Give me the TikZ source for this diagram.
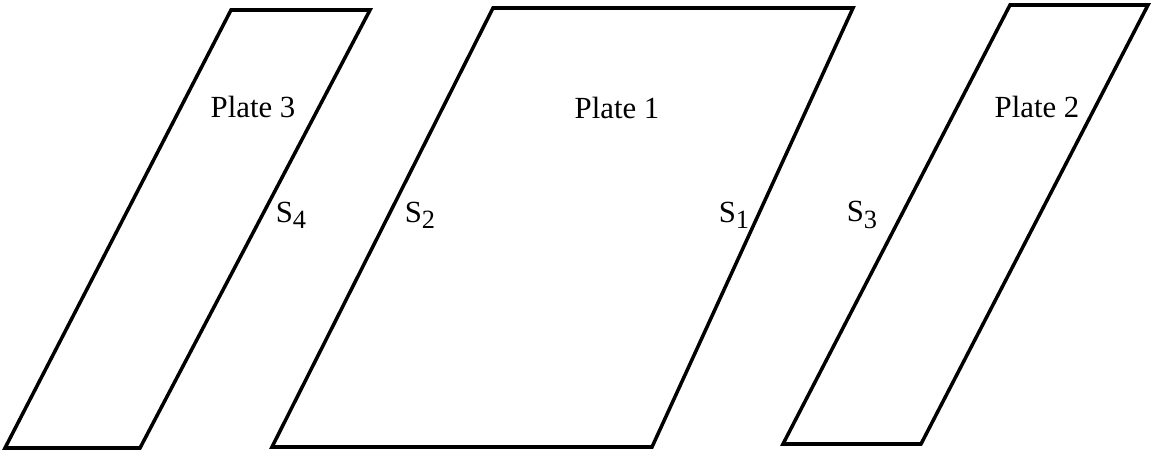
\documentclass[tikz,border=0pt]{standalone}
\usepackage{fontspec}
\setmainfont{Liberation Serif}
\usetikzlibrary{positioning}
\newcommand{\surfsub}[1]{S\raisebox{-0.45ex}{\fontsize{15}{15}\selectfont #1}}
\tikzset{
  plate/.style={line width=2pt, line join=miter},
  platelabel/.style={font=\fontsize{17.5}{20}\selectfont, inner sep=0pt},
  surflabel/.style={font=\fontsize{17.5}{20}\selectfont, inner sep=0pt}
}
\begin{document}
\begin{tikzpicture}[x=0.02cm, y=-0.02cm]
% pixel grid of the reference, y pointing down
\useasboundingbox (0,0) rectangle (1152,456);
% the three slanted plates
\draw[plate] (231,10) -- (370,10) -- (140,448) -- (5,448) -- cycle;
\draw[plate] (493,8) -- (853,8) -- (652,447) -- (272,447) -- cycle;
\draw[plate] (1010,5) -- (1148,5) -- (921,444) -- (783,444) -- cycle;
% plate names
\node[platelabel] (p3) at (253,107) {Plate 3};
\node[platelabel] (p1) at (617,108) {Plate 1};
\node[platelabel] (p2) at (1037,107) {Plate 2};
% surfaces
\node[surflabel] (s4) at (291,215) {\surfsub{4}};
\node[surflabel] (s2) at (420,215) {\surfsub{2}};
\node[surflabel] (s1) at (734,215) {\surfsub{1}};
\node[surflabel] (s3) at (862,215) {\surfsub{3}};
\end{tikzpicture}
\end{document}
